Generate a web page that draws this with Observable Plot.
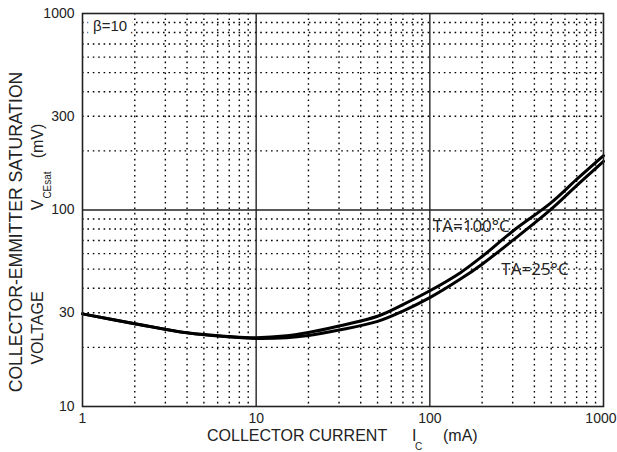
<!DOCTYPE html>
<html><head><meta charset="utf-8">
<script src="https://cdn.jsdelivr.net/npm/d3@7"></script>
<script src="https://cdn.jsdelivr.net/npm/@observablehq/plot@0.6"></script>
<style>
body{margin:0;background:#fff}
#chart{position:relative;width:617px;height:452px}
</style>
</head><body><div id="chart"></div>
<script>
// Collector current (mA)
const current = [1, 2, 4, 7, 10, 15, 20, 30, 50, 70, 100, 150, 200, 300, 500, 700, 1000];
// VCE(sat) (mV) at TA = 25°C
const vce25 = [29.6, 26.4, 23.7, 22.6, 22.2, 22.4, 23.0, 24.5, 27.1, 30.6, 35.8, 44.5, 53, 70, 101, 133, 177];
// VCE(sat) (mV) at TA = 100°C
const vce100 = [29.6, 26.4, 23.7, 22.7, 22.4, 22.9, 23.8, 25.7, 28.8, 33.0, 38.8, 48.0, 58, 78, 109, 143, 189];

const xTicks = [1, 10, 100, 1000];
const yTicks = [10, 30, 100, 300, 1000];
const xMajorGrid = [10, 100];
const yMajorGrid = [100];
const xMinorGrid = [2,3,4,5,6,7,8,9,20,30,40,50,60,70,80,90,200,300,400,500,600,700,800,900];
const yMinorGrid = [20,30,40,50,60,70,80,90,200,300,400,500,600,700,800,900];

// annotations: current (mA), voltage (mV), text
const labelCurrent = [100, 248];
const labelVoltage = [82, 50];
const labelText = ["TA=100°C", "TA=25°C"];
const betaLabel = {x: 1.15, y: 860, text: "β=10"};

const series = [
  ...current.map((c, i) => ({c, v: vce25[i], s: "25"})),
  ...current.map((c, i) => ({c, v: vce100[i], s: "100"}))
];
const labels = labelText.map((t, i) => ({x: labelCurrent[i], y: labelVoltage[i], t}));

const dots = {stroke: "#000", strokeWidth: 1.4, strokeDasharray: "1.6,3.8"};
const SANS = "Liberation Sans, Arial, sans-serif";

const chart = Plot.plot({
  width: 617,
  height: 452,
  marginLeft: 82,
  marginRight: 14,
  marginTop: 13,
  marginBottom: 46,
  style: {fontFamily: SANS, fontSize: "14px", color: "#222", background: "#fff"},
  x: {type: "log", domain: [1, 1000]},
  y: {type: "log", domain: [10, 1000]},
  marks: [
    Plot.ruleX(xMinorGrid, dots),
    Plot.ruleY(yMinorGrid, dots),
    Plot.ruleX(xMajorGrid, {stroke: "#222", strokeWidth: 1.4}),
    Plot.ruleY(yMajorGrid, {stroke: "#222", strokeWidth: 1.4}),
    Plot.line(series, {x: "c", y: "v", z: "s", stroke: "#000", strokeWidth: 3, curve: "catmull-rom"}),
    Plot.text(labels, {x: "x", y: "y", text: "t", textAnchor: "start", dx: 3, fontSize: 17, fontFamily: "Open Sans", fill: "#222"}),
    Plot.text([betaLabel], {x: "x", y: "y", text: "text", textAnchor: "start", fontSize: 15, fontFamily: SANS, fill: "#222", stroke: "#fff", strokeWidth: 12}),
    Plot.frame({stroke: "#222", strokeWidth: 1.6}),
    Plot.axisX({ticks: xTicks, tickFormat: d => String(d), tickSize: 0, tickPadding: 7, label: null, fontSize: 14}),
    Plot.axisY({ticks: yTicks, tickFormat: d => String(d), tickSize: 0, tickPadding: 8, label: null, fontSize: 14})
  ]
});
document.getElementById("chart").appendChild(chart);

const svg = d3.select(chart);
// keep the last x tick label inside the picture
const xLabels = svg.selectAll('g[aria-label="x-axis tick label"] text');
xLabels.filter((d, i, n) => i === n.length - 1).attr("text-anchor", "end").attr("dx", 13);

// axis titles
const g = svg.append("g").attr("fill", "#222").attr("text-anchor", "start").style("font-family", SANS);
// x title
g.append("text").attr("x", 207).attr("y", 441).attr("font-size", 16).text("COLLECTOR CURRENT");
g.append("text").attr("x", 412).attr("y", 441).attr("font-size", 16).text("I");
g.append("text").attr("x", 415).attr("y", 450).attr("font-size", 10).text("C");
g.append("text").attr("x", 443).attr("y", 441).attr("font-size", 16).text("(mA)");
// y title line 1
g.append("text").attr("transform", "translate(16,232) rotate(-90)").attr("dy", "0.35em")
  .attr("text-anchor", "middle").attr("font-size", 17.6).text("COLLECTOR-EMMITTER SATURATION");
// y title line 2
g.append("text").attr("transform", "translate(37.5,328) rotate(-90)").attr("dy", "0.35em")
  .attr("text-anchor", "middle").attr("font-size", 16).text("VOLTAGE");
g.append("text").attr("transform", "translate(37.5,205) rotate(-90)").attr("dy", "0.35em")
  .attr("text-anchor", "middle").attr("font-size", 16).text("V");
g.append("text").attr("transform", "translate(47,185) rotate(-90)").attr("dy", "0.35em")
  .attr("text-anchor", "middle").attr("font-size", 10).text("CEsat");
g.append("text").attr("transform", "translate(37.5,141) rotate(-90)").attr("dy", "0.35em")
  .attr("text-anchor", "middle").attr("font-size", 16).text("(mV)");
</script>
</body></html>
